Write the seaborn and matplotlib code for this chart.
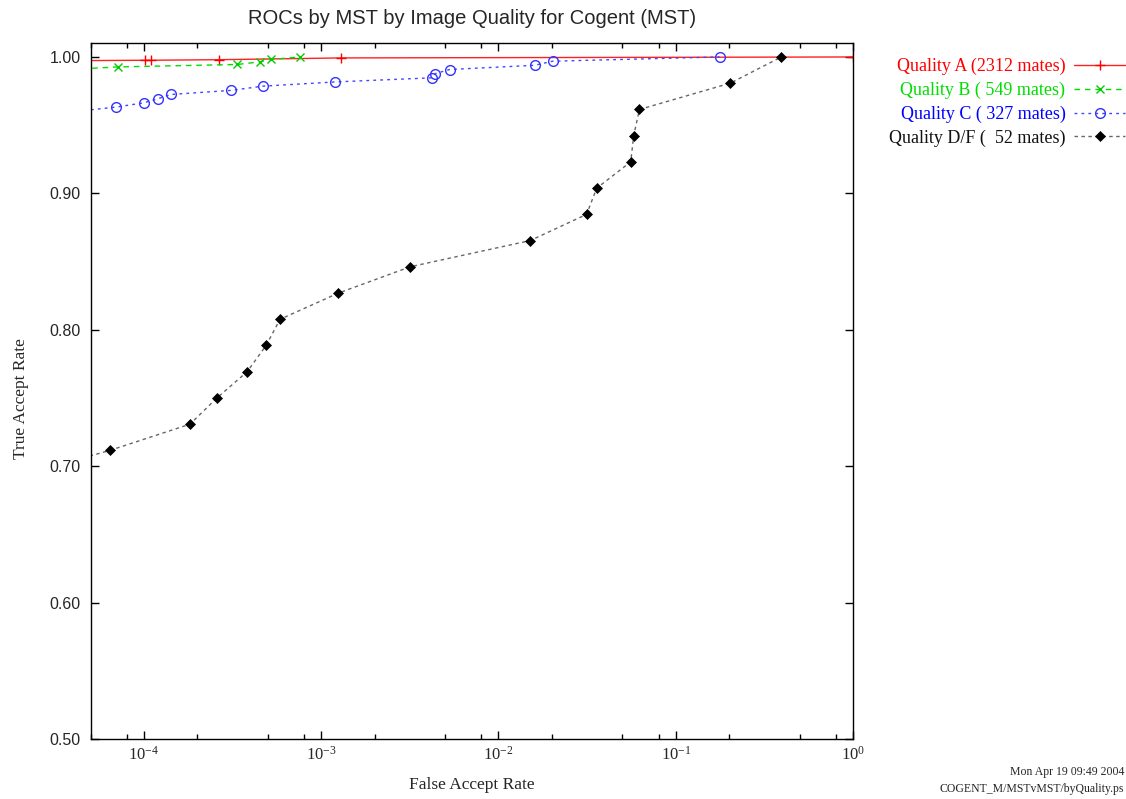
import matplotlib
matplotlib.use("Agg")
import matplotlib.pyplot as plt
import matplotlib.ticker as mticker
import seaborn as sns
import pandas as pd

# Curvas ROC por calidad de imagen
calidades = ["A", "B", "C", "D/F"]
parejas = [2312, 549, 327, 52]

far_a = [3.0e-5, 1.02e-4, 1.09e-4, 2.65e-4, 1.29e-3, 1.0]
tar_a = [0.9972, 0.9976, 0.9976, 0.9980, 0.9993, 1.0]

far_b = [3.9e-5, 7.1e-5, 3.37e-4, 4.5e-4, 5.2e-4, 7.6e-4]
tar_b = [0.9909, 0.9927, 0.9945, 0.9964, 0.9982, 1.0]

far_c = [4.2e-5, 7.0e-5, 1.0e-4, 1.2e-4, 1.42e-4, 3.1e-4, 4.7e-4, 1.2e-3,
         4.2e-3, 4.4e-3, 5.3e-3, 1.6e-2, 2.02e-2, 0.177]
tar_c = [0.9602, 0.9633, 0.9664, 0.9694, 0.9725, 0.9755, 0.9786, 0.9817,
         0.9847, 0.9878, 0.9908, 0.9939, 0.9969, 1.0]

far_d = [1.9e-5, 6.4e-5, 1.82e-4, 2.58e-4, 3.82e-4, 4.89e-4, 5.86e-4, 1.25e-3,
         3.18e-3, 1.51e-2, 3.14e-2, 3.58e-2, 5.57e-2, 5.79e-2, 6.24e-2, 0.203, 0.394]
tar_d = [0.6923, 0.7115, 0.7308, 0.75, 0.7692, 0.7885, 0.8077, 0.8269,
         0.8462, 0.8654, 0.8846, 0.9038, 0.9231, 0.9423, 0.9615, 0.9808, 1.0]

y_ticks = [0.5, 0.6, 0.7, 0.8, 0.9, 1.0]

sns.set_style("ticks")
plt.rcParams["font.family"] = ["Liberation Serif", "DejaVu Serif"]
plt.rcParams["mathtext.default"] = "regular"
plt.rcParams["axes.unicode_minus"] = False

df = pd.concat([
    pd.DataFrame({"far": far_a, "tar": tar_a, "q": "A"}),
    pd.DataFrame({"far": far_b, "tar": tar_b, "q": "B"}),
    pd.DataFrame({"far": far_c, "tar": tar_c, "q": "C"}),
    pd.DataFrame({"far": far_d, "tar": tar_d, "q": "D/F"}),
])

estilos = {
    "A": dict(color="#ff2020", linestyle="-", marker="+", markersize=7,
              markeredgecolor="#ff0000", markeredgewidth=1.0),
    "B": dict(color="#00dd00", linestyle=(0, (4, 3.5)), marker="x", markersize=5.5,
              markeredgecolor="#00cc00", markeredgewidth=1.0),
    "C": dict(color="#4444ff", linestyle=(0, (2, 3)), marker="o", markersize=7,
              markerfacecolor="none", markeredgecolor="#3333ff", markeredgewidth=1.0),
    "D/F": dict(color="#666666", linestyle=(0, (2.5, 2.5)), marker="D", markersize=5,
                markerfacecolor="black", markeredgecolor="black", markeredgewidth=0.5),
}
colores_texto = ["#ff0000", "#00dd00", "#0000ff", "#111111"]

fig = plt.figure(figsize=(11.26, 7.99), dpi=100)
ax = fig.add_axes([0.0804, 0.0751, 0.6772, 0.8705])

for q, n in zip(calidades, parejas):
    sub = df[df["q"] == q]
    sns.lineplot(data=sub, x="far", y="tar", ax=ax, estimator=None, sort=False,
                 linewidth=1.0, label=f"Quality {q} ({n:4d} mates)", **estilos[q])

ax.set_xscale("log")
ax.set_xlim(5e-5, 1.0)
ax.set_ylim(0.5, 1.0099)

ax.xaxis.set_major_locator(mticker.LogLocator(base=10))
ax.xaxis.set_minor_locator(mticker.LogLocator(base=10, subs=(2, 5, 8)))
ax.xaxis.set_minor_formatter(mticker.NullFormatter())
ax.set_yticks(y_ticks)
ax.yaxis.set_major_formatter(mticker.FormatStrFormatter("%.2f"))

ax.tick_params(which="both", direction="in", top=True, right=True, width=1.0, color="black")
ax.tick_params(which="major", length=6)
ax.tick_params(which="minor", length=3.5)
ax.tick_params(axis="x", labelsize=12, pad=5)
ax.tick_params(axis="y", labelsize=11.5, pad=7)
for t in ax.get_yticklabels():
    t.set_fontfamily(["Liberation Sans", "DejaVu Sans"])
for s in ax.spines.values():
    s.set_linewidth(1.0)
    s.set_color("black")

ax.set_xlabel("False Accept Rate", fontsize=12.5)
ax.set_ylabel("True Accept Rate", fontsize=12.5)
ax.xaxis.set_label_coords(0.5, -0.054)
ax.yaxis.set_label_coords(-0.081, 0.49)

fig.text(472 / 1126, 1 - 18 / 799, "ROCs by MST by Image Quality for Cogent (MST)",
         ha="center", va="center", fontsize=14.5, family=["Liberation Sans", "DejaVu Sans"])

handles, labels = ax.get_legend_handles_labels()
leg = ax.legend(handles, labels, loc="upper right", bbox_to_anchor=(1125 / 1126, 1 - 58 / 799),
                bbox_transform=fig.transFigure, frameon=False, markerfirst=False,
                handlelength=2.8, handletextpad=0.5, labelspacing=0.36,
                borderpad=0, borderaxespad=0, fontsize=13, labelcolor=colores_texto)

fig.text(1124 / 1126, 1 - 772 / 799, "Mon Apr 19 09:49 2004", ha="right", va="center", fontsize=8.5)
fig.text(1124 / 1126, 1 - 789 / 799, "COGENT_M/MSTvMST/byQuality.ps", ha="right", va="center",
         fontsize=8.5)

fig.savefig("out.png", dpi=100, facecolor="white")
